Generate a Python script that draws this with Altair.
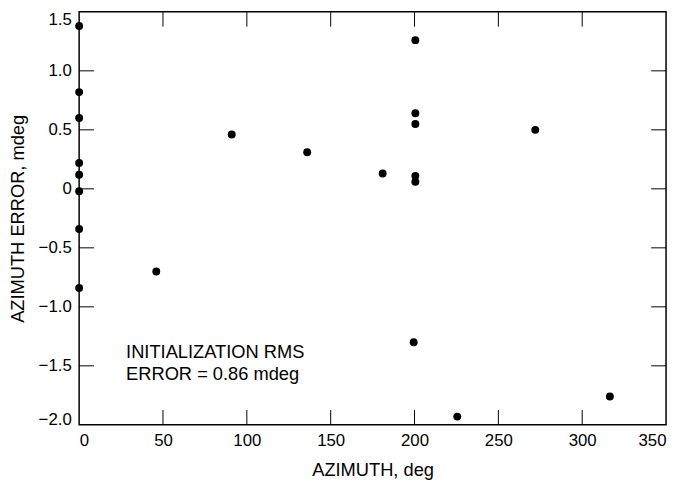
import altair as alt
import pandas as pd

# Data
azimuth = [0, 0, 0, 0, 0, 0, 0, 0, 46, 91, 136, 181,
           200.5, 200.5, 200.5, 200.5, 200.5, 199.5, 225.5, 272, 316.5]
az_error = [1.38, 0.82, 0.60, 0.22, 0.12, -0.02, -0.34, -0.84, -0.70, 0.46, 0.31, 0.13,
            1.26, 0.64, 0.55, 0.11, 0.06, -1.30, -1.93, 0.50, -1.76]

x_ticks = [0, 50, 100, 150, 200, 250, 300, 350]
y_ticks = [-2.0, -1.5, -1.0, -0.5, 0, 0.5, 1.0, 1.5]
x_inner_ticks = [50, 100, 150, 200, 250, 300]
y_inner_ticks = [-1.5, -1.0, -0.5, 0, 0.5, 1.0]

note_lines = ["INITIALIZATION RMS", "ERROR = 0.86 mdeg"]
note_x = [28]
note_y = [-1.43]

W, H = 594, 418
FONT = "Liberation Sans"

df = pd.DataFrame({"az": azimuth, "err": az_error})
xt = pd.DataFrame({"v": x_inner_ticks})
yt = pd.DataFrame({"v": y_inner_ticks})
note = pd.DataFrame({"x": note_x, "y": note_y})

xscale = alt.Scale(domain=[0, 350], nice=False, zero=False)
yscale = alt.Scale(domain=[-2.0, 1.5], nice=False, zero=False)

xaxis = alt.Axis(values=x_ticks, ticks=False, domain=False, grid=False,
                 labelFlush=True,
                 labelFont=FONT, labelFontSize=17, labelColor="black", labelPadding=8,
                 title="AZIMUTH, deg", titleFont=FONT, titleFontSize=18.5,
                 titleFontWeight="normal", titleColor="black",
                 titleX=W / 2, titleY=51, titleBaseline="alphabetic")
yaxis = alt.Axis(values=y_ticks, ticks=False, domain=False, grid=False,
                 labelFlush=False,
                 labelBaseline={"condition": [
                     {"test": "datum.value == 1.5", "value": "top"},
                     {"test": "datum.value == -2", "value": "alphabetic"}],
                     "value": "middle"},
                 labelExpr="datum.value == 0 ? '0' : format(datum.value, '.1f')",
                 labelFont=FONT, labelFontSize=17, labelColor="black", labelPadding=8,
                 title="AZIMUTH ERROR, mdeg", titleFont=FONT, titleFontSize=18.5,
                 titleFontWeight="normal", titleColor="black",
                 titleX=-56, titleY=H / 2, titleBaseline="alphabetic", titleAngle=270)

points = alt.Chart(df).mark_circle(size=64, color="black", opacity=1).encode(
    x=alt.X("az:Q", scale=xscale, axis=xaxis),
    y=alt.Y("err:Q", scale=yscale, axis=yaxis),
)

tick_style = dict(color="black", strokeWidth=1)
bottom_ticks = alt.Chart(xt).mark_rule(**tick_style).encode(
    x=alt.X("v:Q", scale=xscale), y=alt.value(H), y2=alt.value(H - 15))
top_ticks = alt.Chart(xt).mark_rule(**tick_style).encode(
    x=alt.X("v:Q", scale=xscale), y=alt.value(0), y2=alt.value(15))
left_ticks = alt.Chart(yt).mark_rule(**tick_style).encode(
    y=alt.Y("v:Q", scale=yscale), x=alt.value(0), x2=alt.value(15))
right_ticks = alt.Chart(yt).mark_rule(**tick_style).encode(
    y=alt.Y("v:Q", scale=yscale), x=alt.value(W - 15), x2=alt.value(W))

text = alt.Chart(note).mark_text(
    text=note_lines, align="left", baseline="alphabetic", lineHeight=23,
    font=FONT, fontSize=18.5, color="black"
).encode(x=alt.X("x:Q", scale=xscale), y=alt.Y("y:Q", scale=yscale))

chart = alt.layer(points, bottom_ticks, top_ticks, left_ticks, right_ticks, text).properties(
    width=W, height=H,
    padding={"left": 72, "top": 1, "right": 4, "bottom": 58},
    autosize=alt.AutoSizeParams(type="none"),
    background="white",
).configure_view(stroke="black", strokeWidth=1.5)

chart.save("out.html", embed_options={"renderer": "svg", "actions": False})
